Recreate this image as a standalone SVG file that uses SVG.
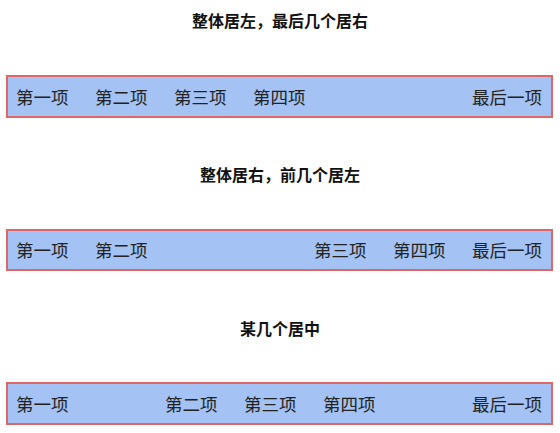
<svg xmlns="http://www.w3.org/2000/svg" width="560" height="433" viewBox="0 0 560 433">
<style>
.title{font-family:"Noto Sans CJK SC","Noto Sans",sans-serif;font-size:16px;font-weight:bold;fill:#111;text-anchor:middle}
.bar{fill:#a4c2f4;stroke:#e06666;stroke-width:2}
.item{font-family:"Noto Sans CJK SC","Noto Sans",sans-serif;font-size:17.5px;fill:#222}
</style>
<rect width="560" height="433" fill="#ffffff"/>
<g id="row1">
<text class="title" x="280" y="27">整体居左，最后几个居右</text>
<rect class="bar" x="7" y="76" width="545" height="41"/>
<text class="item" x="16" y="103.5">第一项</text>
<text class="item" x="95" y="103.5">第二项</text>
<text class="item" x="174" y="103.5">第三项</text>
<text class="item" x="253" y="103.5">第四项</text>
<text class="item" x="472" y="103.5">最后一项</text>
</g>
<g id="row2">
<text class="title" x="280" y="181">整体居右，前几个居左</text>
<rect class="bar" x="7" y="230" width="545" height="40"/>
<text class="item" x="16" y="257">第一项</text>
<text class="item" x="95" y="257">第二项</text>
<text class="item" x="314" y="257">第三项</text>
<text class="item" x="393" y="257">第四项</text>
<text class="item" x="472" y="257">最后一项</text>
</g>
<g id="row3">
<text class="title" x="280" y="335">某几个居中</text>
<rect class="bar" x="7" y="383" width="545" height="41"/>
<text class="item" x="16" y="410.5">第一项</text>
<text class="item" x="165" y="410.5">第二项</text>
<text class="item" x="244" y="410.5">第三项</text>
<text class="item" x="323" y="410.5">第四项</text>
<text class="item" x="472" y="410.5">最后一项</text>
</g>
<g id="connectors"></g>
</svg>
